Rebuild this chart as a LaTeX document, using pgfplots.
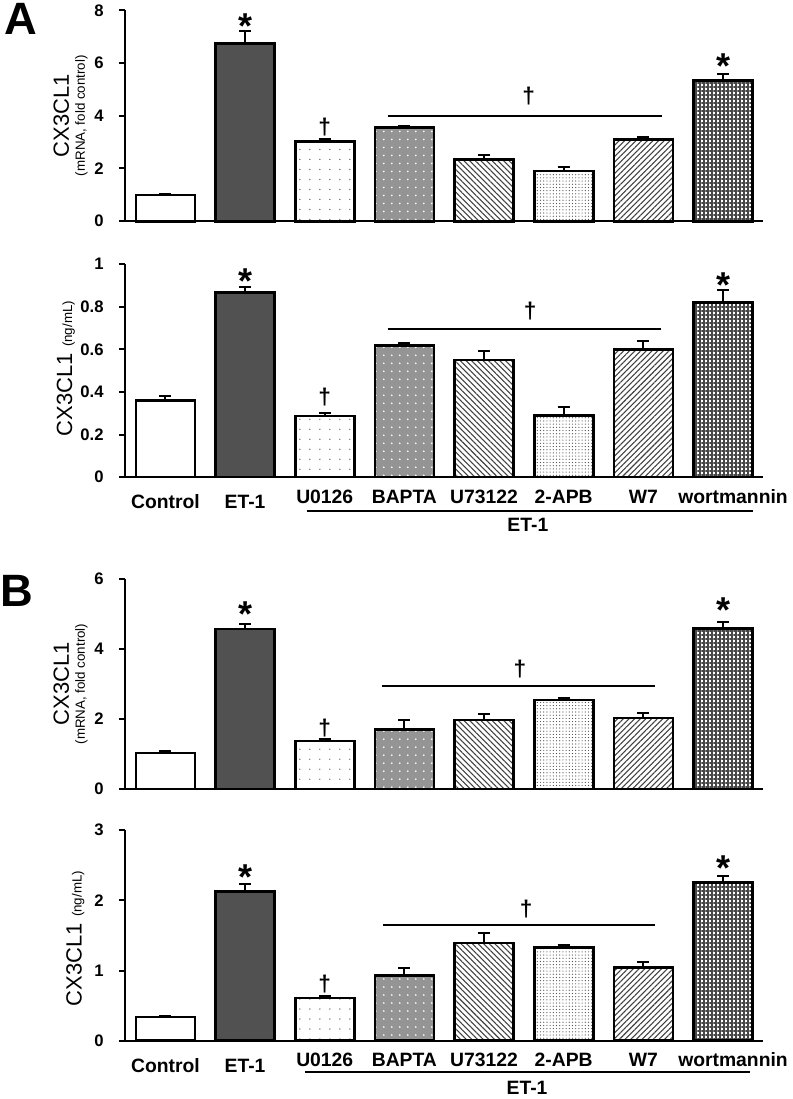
\documentclass[border=0pt]{standalone}
\usepackage{fontspec}
\setmainfont{Liberation Sans}
\usepackage{pgfplots}
\pgfplotsset{compat=1.18}
\usetikzlibrary{patterns.meta}
\definecolor{darkbar}{HTML}{515151}

\pgfplotsset{
  panel/.style={
    scale only axis, width=478.5pt, clip=false,
    xmin=-0.508, xmax=7.497, ymin=0,
    axis lines=left, axis line style={-, line width=1.5pt},
    ytick pos=left, tick align=outside, major tick length=4.5pt,
    tick style={line width=1.5pt, black},
    /pgf/number format/assume math mode=true,
    yticklabel style={font=\bfseries\fontsize{12.5}{13}\selectfont, xshift=-8pt},
    every axis y label/.style={at={(axis description cs:-0.058,0.5)}, anchor=south, rotate=90, inner sep=0pt, align=center},
  },
  cats/.style={
    xtick={0,...,7}, xtick style={draw=none},
    xticklabels={Control,ET-1,\raisebox{4pt}{U0126},\raisebox{4pt}{BAPTA},\raisebox{4pt}{U73122},\raisebox{4pt}{2-APB},\raisebox{4pt}{W7},\raisebox{4pt}{\hspace*{15pt}wortmannin}},
    xticklabel style={font=\bfseries\fontsize{14.5}{15}\selectfont, anchor=base, yshift=-19pt},
  },
  bstyle/.style={ybar, bar width=0.74, bar shift=0pt, draw=black, line width=2pt,
    error bars/y dir=plus, error bars/y explicit,
    error bars/error bar style={line width=1.5pt, black},
    error bars/error mark options={line width=1.5pt, mark size=4.5pt, black, rotate=90}},
  b0/.style={bstyle, fill=white},
  b1/.style={bstyle, fill=darkbar},
  b2/.style={bstyle, preaction={fill=white}, pattern={Dots[distance=7.5pt, radius=0.55pt]}, pattern color=black!60},
  b3/.style={bstyle, preaction={fill=black!42}, pattern={Dots[distance=6pt, radius=0.7pt]}, pattern color=white},
  b4/.style={bstyle, preaction={fill=white}, pattern={Lines[angle=-45, distance=3pt, line width=0.8pt]}, pattern color=black!75},
  b5/.style={bstyle, preaction={fill=white}, pattern={Dots[distance=2.4pt, radius=0.45pt]}, pattern color=black!70},
  b6/.style={bstyle, preaction={fill=white}, pattern={Lines[angle=45, distance=3pt, line width=0.8pt]}, pattern color=black!75},
  b7/.style={bstyle, preaction={fill=white}, pattern={Hatch[angle=0, distance=3pt, line width=1.5pt]}, pattern color=black!72},
}
\tikzset{
  star/.style={anchor=north, inner sep=0pt, font=\bfseries\fontsize{27}{27}\selectfont},
  dag/.style={anchor=north, inner sep=0pt, font=\bfseries\fontsize{17}{17}\selectfont},
  sig/.style={line width=1.5pt, black},
}

\begin{document}
\begin{tikzpicture}
\path (0pt,0pt) rectangle (594pt,824.25pt);
\node[anchor=north west, inner sep=0pt, font=\bfseries\fontsize{34}{34}\selectfont] at (3pt,822pt) {A};
\node[anchor=north west, inner sep=0pt, font=\bfseries\fontsize{34}{34}\selectfont] at (0pt,393pt) {B};

% ---------- A: mRNA ----------
\begin{axis}[panel, at={(93.75pt,658.5pt)}, anchor=south west, height=158.25pt,
  ymax=8, ytick={0,2,4,6,8}, xtick=\empty,
  ylabel={\fontsize{16.5}{17}\selectfont CX3CL1\\\fontsize{10}{12}\selectfont (mRNA, fold control)}]
\addplot[b0] coordinates {(0,1.00) +- (0,0.02)};
\addplot[b1] coordinates {(1,6.74) +- (0,0.46)};
\addplot[b2] coordinates {(2,3.03) +- (0,0.08)};
\addplot[b3] coordinates {(3,3.56) +- (0,0.04)};
\addplot[b4] coordinates {(4,2.35) +- (0,0.15)};
\addplot[b5] coordinates {(5,1.90) +- (0,0.15)};
\addplot[b6] coordinates {(6,3.10) +- (0,0.08)};
\addplot[b7] coordinates {(7,5.34) +- (0,0.26)};
\node[star] at (axis cs:1,7.88) {*};
\node[star] at (axis cs:7,6.36) {*};
\node[dag] at (axis cs:2,3.94) {†};
\node[dag] at (axis cs:4.56,5.08) {†};
\draw[sig] (axis cs:2.79,4.0) -- (axis cs:6.23,4.0);
\end{axis}

% ---------- A: ELISA ----------
\begin{axis}[panel, cats, at={(93.75pt,466.5pt)}, anchor=south west, height=159.75pt,
  ymax=1, ytick={0,0.2,0.4,0.6,0.8,1},
  every axis y label/.append style={at={(axis description cs:-0.078,0.51)}},
  ylabel={\fontsize{16.5}{17}\selectfont CX3CL1 \fontsize{10}{12}\selectfont(ng/mL)}]
\addplot[b0] coordinates {(0,0.360) +- (0,0.020)};
\addplot[b1] coordinates {(1,0.867) +- (0,0.028)};
\addplot[b2] coordinates {(2,0.287) +- (0,0.013)};
\addplot[b3] coordinates {(3,0.618) +- (0,0.012)};
\addplot[b4] coordinates {(4,0.550) +- (0,0.043)};
\addplot[b5] coordinates {(5,0.289) +- (0,0.041)};
\addplot[b6] coordinates {(6,0.600) +- (0,0.037)};
\addplot[b7] coordinates {(7,0.820) +- (0,0.058)};
\node[star] at (axis cs:1,0.98) {*};
\node[star] at (axis cs:7,0.961) {*};
\node[dag] at (axis cs:2,0.419) {†};
\node[dag] at (axis cs:4.58,0.825) {†};
\draw[sig] (axis cs:2.79,0.696) -- (axis cs:6.22,0.696);
\draw[sig] (axis cs:1.78,-0.16) -- (axis cs:7.37,-0.16);
\node[font=\bfseries\fontsize{14.5}{15}\selectfont] at (axis cs:4.55,-0.226) {ET-1};
\end{axis}

% ---------- B: mRNA ----------
\begin{axis}[panel, at={(93.75pt,232.5pt)}, anchor=south west, height=157.5pt,
  ymax=6, ytick={0,2,4,6}, xtick=\empty,
  ylabel={\fontsize{16.5}{17}\selectfont CX3CL1\\\fontsize{10}{12}\selectfont (mRNA, fold control)}]
\addplot[b0] coordinates {(0,1.03) +- (0,0.05)};
\addplot[b1] coordinates {(1,4.57) +- (0,0.14)};
\addplot[b2] coordinates {(2,1.37) +- (0,0.05)};
\addplot[b3] coordinates {(3,1.69) +- (0,0.28)};
\addplot[b4] coordinates {(4,1.97) +- (0,0.17)};
\addplot[b5] coordinates {(5,2.54) +- (0,0.06)};
\addplot[b6] coordinates {(6,2.03) +- (0,0.13)};
\addplot[b7] coordinates {(7,4.59) +- (0,0.19)};
\node[star] at (axis cs:1,5.35) {*};
\node[star] at (axis cs:7,5.46) {*};
\node[dag] at (axis cs:2,2.0) {†};
\node[dag] at (axis cs:4.45,3.69) {†};
\draw[sig] (axis cs:2.72,2.94) -- (axis cs:6.14,2.94);
\end{axis}

% ---------- B: ELISA ----------
\begin{axis}[panel, cats, at={(93.75pt,43.5pt)}, anchor=south west, height=158.25pt,
  ymax=3, ytick={0,1,2,3},
  every axis y label/.append style={at={(axis description cs:-0.063,0.485)}},
  ylabel={\fontsize{16.5}{17}\selectfont CX3CL1 \fontsize{10}{12}\selectfont(ng/mL)}]
\addplot[b0] coordinates {(0,0.34) +- (0,0.02)};
\addplot[b1] coordinates {(1,2.12) +- (0,0.11)};
\addplot[b2] coordinates {(2,0.61) +- (0,0.03)};
\addplot[b3] coordinates {(3,0.926) +- (0,0.11)};
\addplot[b4] coordinates {(4,1.39) +- (0,0.14)};
\addplot[b5] coordinates {(5,1.33) +- (0,0.03)};
\addplot[b6] coordinates {(6,1.04) +- (0,0.08)};
\addplot[b7] coordinates {(7,2.25) +- (0,0.10)};
\node[star] at (axis cs:1,2.51) {*};
\node[star] at (axis cs:7,2.64) {*};
\node[dag] at (axis cs:2,0.94) {†};
\node[dag] at (axis cs:4.53,2.01) {†};
\draw[sig] (axis cs:2.73,1.65) -- (axis cs:6.15,1.65);
\draw[sig] (axis cs:1.75,-0.44) -- (axis cs:7.34,-0.44);
\node[font=\bfseries\fontsize{14.5}{15}\selectfont] at (axis cs:4.54,-0.67) {ET-1};
\end{axis}
\end{tikzpicture}
\end{document}
